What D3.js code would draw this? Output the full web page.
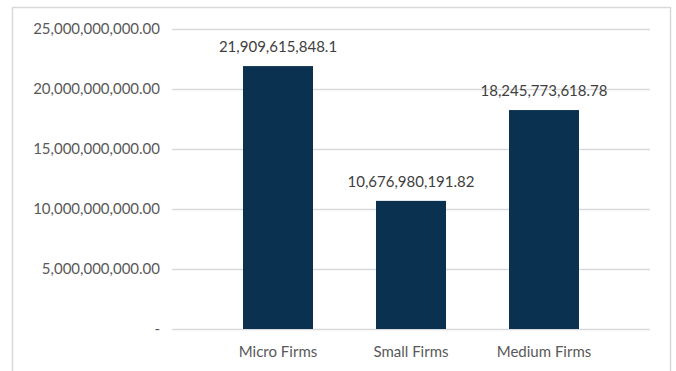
<!DOCTYPE html>
<html>
<head>
<meta charset="utf-8">
<script src="https://cdn.jsdelivr.net/npm/d3@7"></script>
<style>
  html, body { margin: 0; padding: 0; background: #ffffff; }
  svg { display: block; font-family: Lato, "Open Sans", sans-serif; }
</style>
</head>
<body>
<svg id="chart" width="676" height="371"></svg>
<script>
// Firm size categories and their totals
const categories = ["Micro Firms", "Small Firms", "Medium Firms"];
const values = [21909615848.1, 10676980191.82, 18245773618.78];
const valueLabels = ["21,909,615,848.1", "10,676,980,191.82", "18,245,773,618.78"];
const yTicks = [0, 5e9, 10e9, 15e9, 20e9, 25e9];
const yTickLabels = ["-", "5,000,000,000.00", "10,000,000,000.00", "15,000,000,000.00", "20,000,000,000.00", "25,000,000,000.00"];

const svg = d3.select("#chart");
const textColor = "#595959";
const gridColor = "#d9d9d9";
const barColor = "#0b3150";
const fontSize = 15;

// outer frame (continues past the bottom edge)
svg.append("rect")
  .attr("x", 12.5).attr("y", 7.5)
  .attr("width", 658).attr("height", 400)
  .attr("fill", "none")
  .attr("stroke", gridColor)
  .attr("stroke-width", 1.5);

const y = d3.scaleLinear().domain([0, 25e9]).range([329, 29]);
const x = d3.scaleBand().domain(categories).range([243, 579])
  .paddingInner(63 / 133).paddingOuter(0);

const gridLeft = 172, gridRight = 650;

// horizontal gridlines
svg.append("g").selectAll("line")
  .data(yTicks)
  .join("line")
  .attr("x1", gridLeft).attr("x2", gridRight)
  .attr("y1", d => Math.round(y(d)) + 0.5)
  .attr("y2", d => Math.round(y(d)) + 0.5)
  .attr("stroke", gridColor)
  .attr("stroke-width", 1.5);

// y-axis labels
const yAxis = d3.axisLeft(y)
  .tickValues(yTicks)
  .tickFormat((d, i) => yTickLabels[i])
  .tickSize(0)
  .tickPadding(0);
const gy = svg.append("g").attr("transform", "translate(160,0)").call(yAxis);
gy.select(".domain").remove();
gy.selectAll("text")
  .attr("fill", textColor)
  .attr("font-size", fontSize)
  .attr("font-family", "Lato, 'Open Sans', sans-serif");

// bars
svg.append("g").selectAll("rect")
  .data(values)
  .join("rect")
  .attr("x", (d, i) => x(categories[i]))
  .attr("width", x.bandwidth())
  .attr("y", d => y(d))
  .attr("height", d => y(0) - y(d))
  .attr("fill", barColor);

// value labels above bars
svg.append("g").selectAll("text")
  .data(values)
  .join("text")
  .attr("x", (d, i) => x(categories[i]) + x.bandwidth() / 2)
  .attr("y", d => y(d) - 14)
  .attr("text-anchor", "middle")
  .attr("fill", "#404040")
  .attr("font-size", fontSize)
  .text((d, i) => valueLabels[i]);

// category axis labels
const xAxis = d3.axisBottom(x).tickSize(0).tickPadding(0);
const gx = svg.append("g").attr("transform", "translate(0,346)").call(xAxis);
gx.select(".domain").remove();
gx.selectAll("text")
  .attr("fill", textColor)
  .attr("font-size", fontSize)
  .attr("font-family", "Lato, 'Open Sans', sans-serif");
</script>
</body>
</html>
